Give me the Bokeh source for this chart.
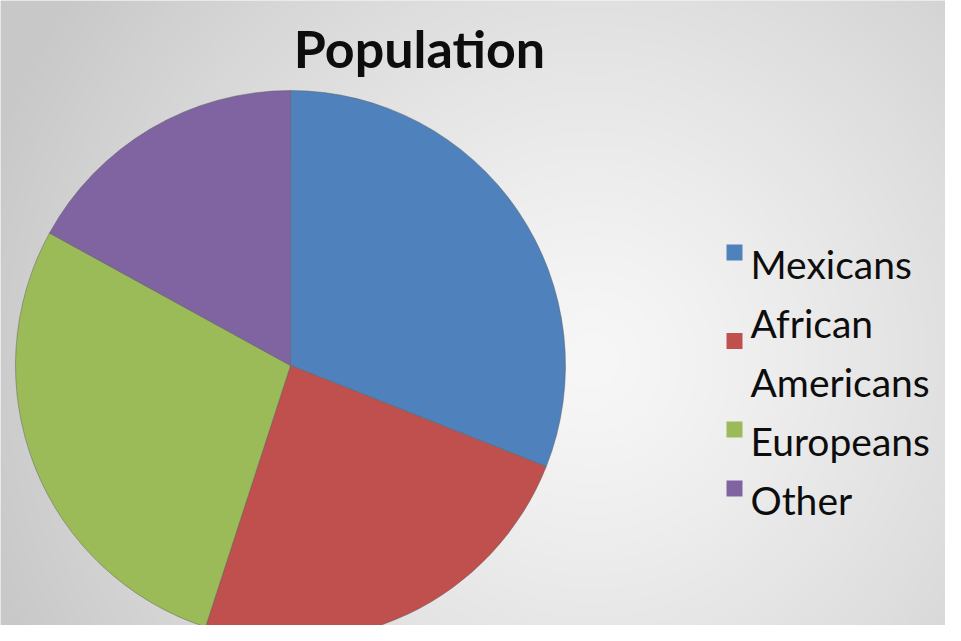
import numpy as np
from bokeh.plotting import figure
from bokeh.models import Range1d
from bokeh.embed import file_html
from bokeh.resources import INLINE
from bokeh.core.properties import value

# ---- data ----
title = "Population"
categories = ["Mexicans", "African Americans", "Europeans", "Other"]
shares = [31, 24, 28, 17]
palette = ["#4F81BD", "#C0504D", "#9BBB59", "#8064A2"]

# ---- canvas (data units == screen pixels) ----
WIN_H = 641
W, H = 945, 625
FONT = "Lato"

p = figure(width=W, height=H, output_backend="svg", toolbar_location=None,
           x_range=Range1d(0, W), y_range=Range1d(WIN_H - H, WIN_H),
           min_border=0, min_border_left=0, min_border_right=0,
           min_border_top=0, min_border_bottom=0)
p.axis.visible = False
p.grid.visible = False
p.outline_line_color = None
p.background_fill_color = "#e6e6e6"
p.border_fill_color = "#e6e6e6"


def sy(y):
    return WIN_H - y


# radial gradient background
rows, cols = H // 2, W // 2
xs = (np.arange(cols) + 0.5) * W / cols
ys = (np.arange(rows) + 0.5) * H / rows      # screen y measured from top
ys = ys[::-1]                                 # image row 0 is at the bottom
X, Y = np.meshgrid(xs, ys)
d = np.hypot(X - 590, Y - 360) / 640.0
t = np.clip(d, 0, 1) ** 1.25
g = (247 - (247 - 200) * t).astype(np.uint8)
img = np.empty((rows, cols), dtype=np.uint32)
view = img.view(dtype=np.uint8).reshape((rows, cols, 4))
view[:, :, 0] = g
view[:, :, 1] = g
view[:, :, 2] = g
view[:, :, 3] = 255
p.image_rgba(image=[img], x=0, y=WIN_H - H, dw=W, dh=H)

# pie
fr = np.array(shares, dtype=float) / sum(shares)
cum = np.concatenate([[0.0], np.cumsum(fr)])
start = np.pi / 2 - 2 * np.pi * cum[:-1]
end = np.pi / 2 - 2 * np.pi * cum[1:]
p.wedge(x=290, y=sy(365), radius=275, start_angle=list(start), end_angle=list(end),
        direction="clock", fill_color=palette, line_color="#5a5a5a", line_alpha=0.45,
        line_width=1)

# title
p.text(x=[419], y=[sy(47)], text=[title], text_font=value(FONT), text_font_style="bold",
       text_font_size="52px", text_align="center", text_baseline="alphabetic",
       text_color="#0d0d0d")

# legend
line_h = 59
first_base = 263
line_idx = 0
tx, ty, tt = [], [], []
sqx, sqy, sqc = [], [], []
for cat, col in zip(categories, palette):
    lines = cat.split(" ") if len(cat) > 10 else [cat]
    bases = []
    for ln in lines:
        b = first_base + line_h * line_idx
        bases.append(b)
        tx.append(750)
        ty.append(sy(b))
        tt.append(ln)
        line_idx += 1
    sqx.append(734)
    sqy.append(sy(np.mean(bases) - 11))
    sqc.append(col)

p.rect(x=sqx, y=sqy, width=16, height=16, fill_color=sqc, line_color=None)
p.text(x=tx, y=ty, text=tt, text_font=value(FONT), text_font_size="39px",
       text_align="left", text_baseline="alphabetic", text_color="#0d0d0d")

open("out.html", "w").write(file_html(p, INLINE))
